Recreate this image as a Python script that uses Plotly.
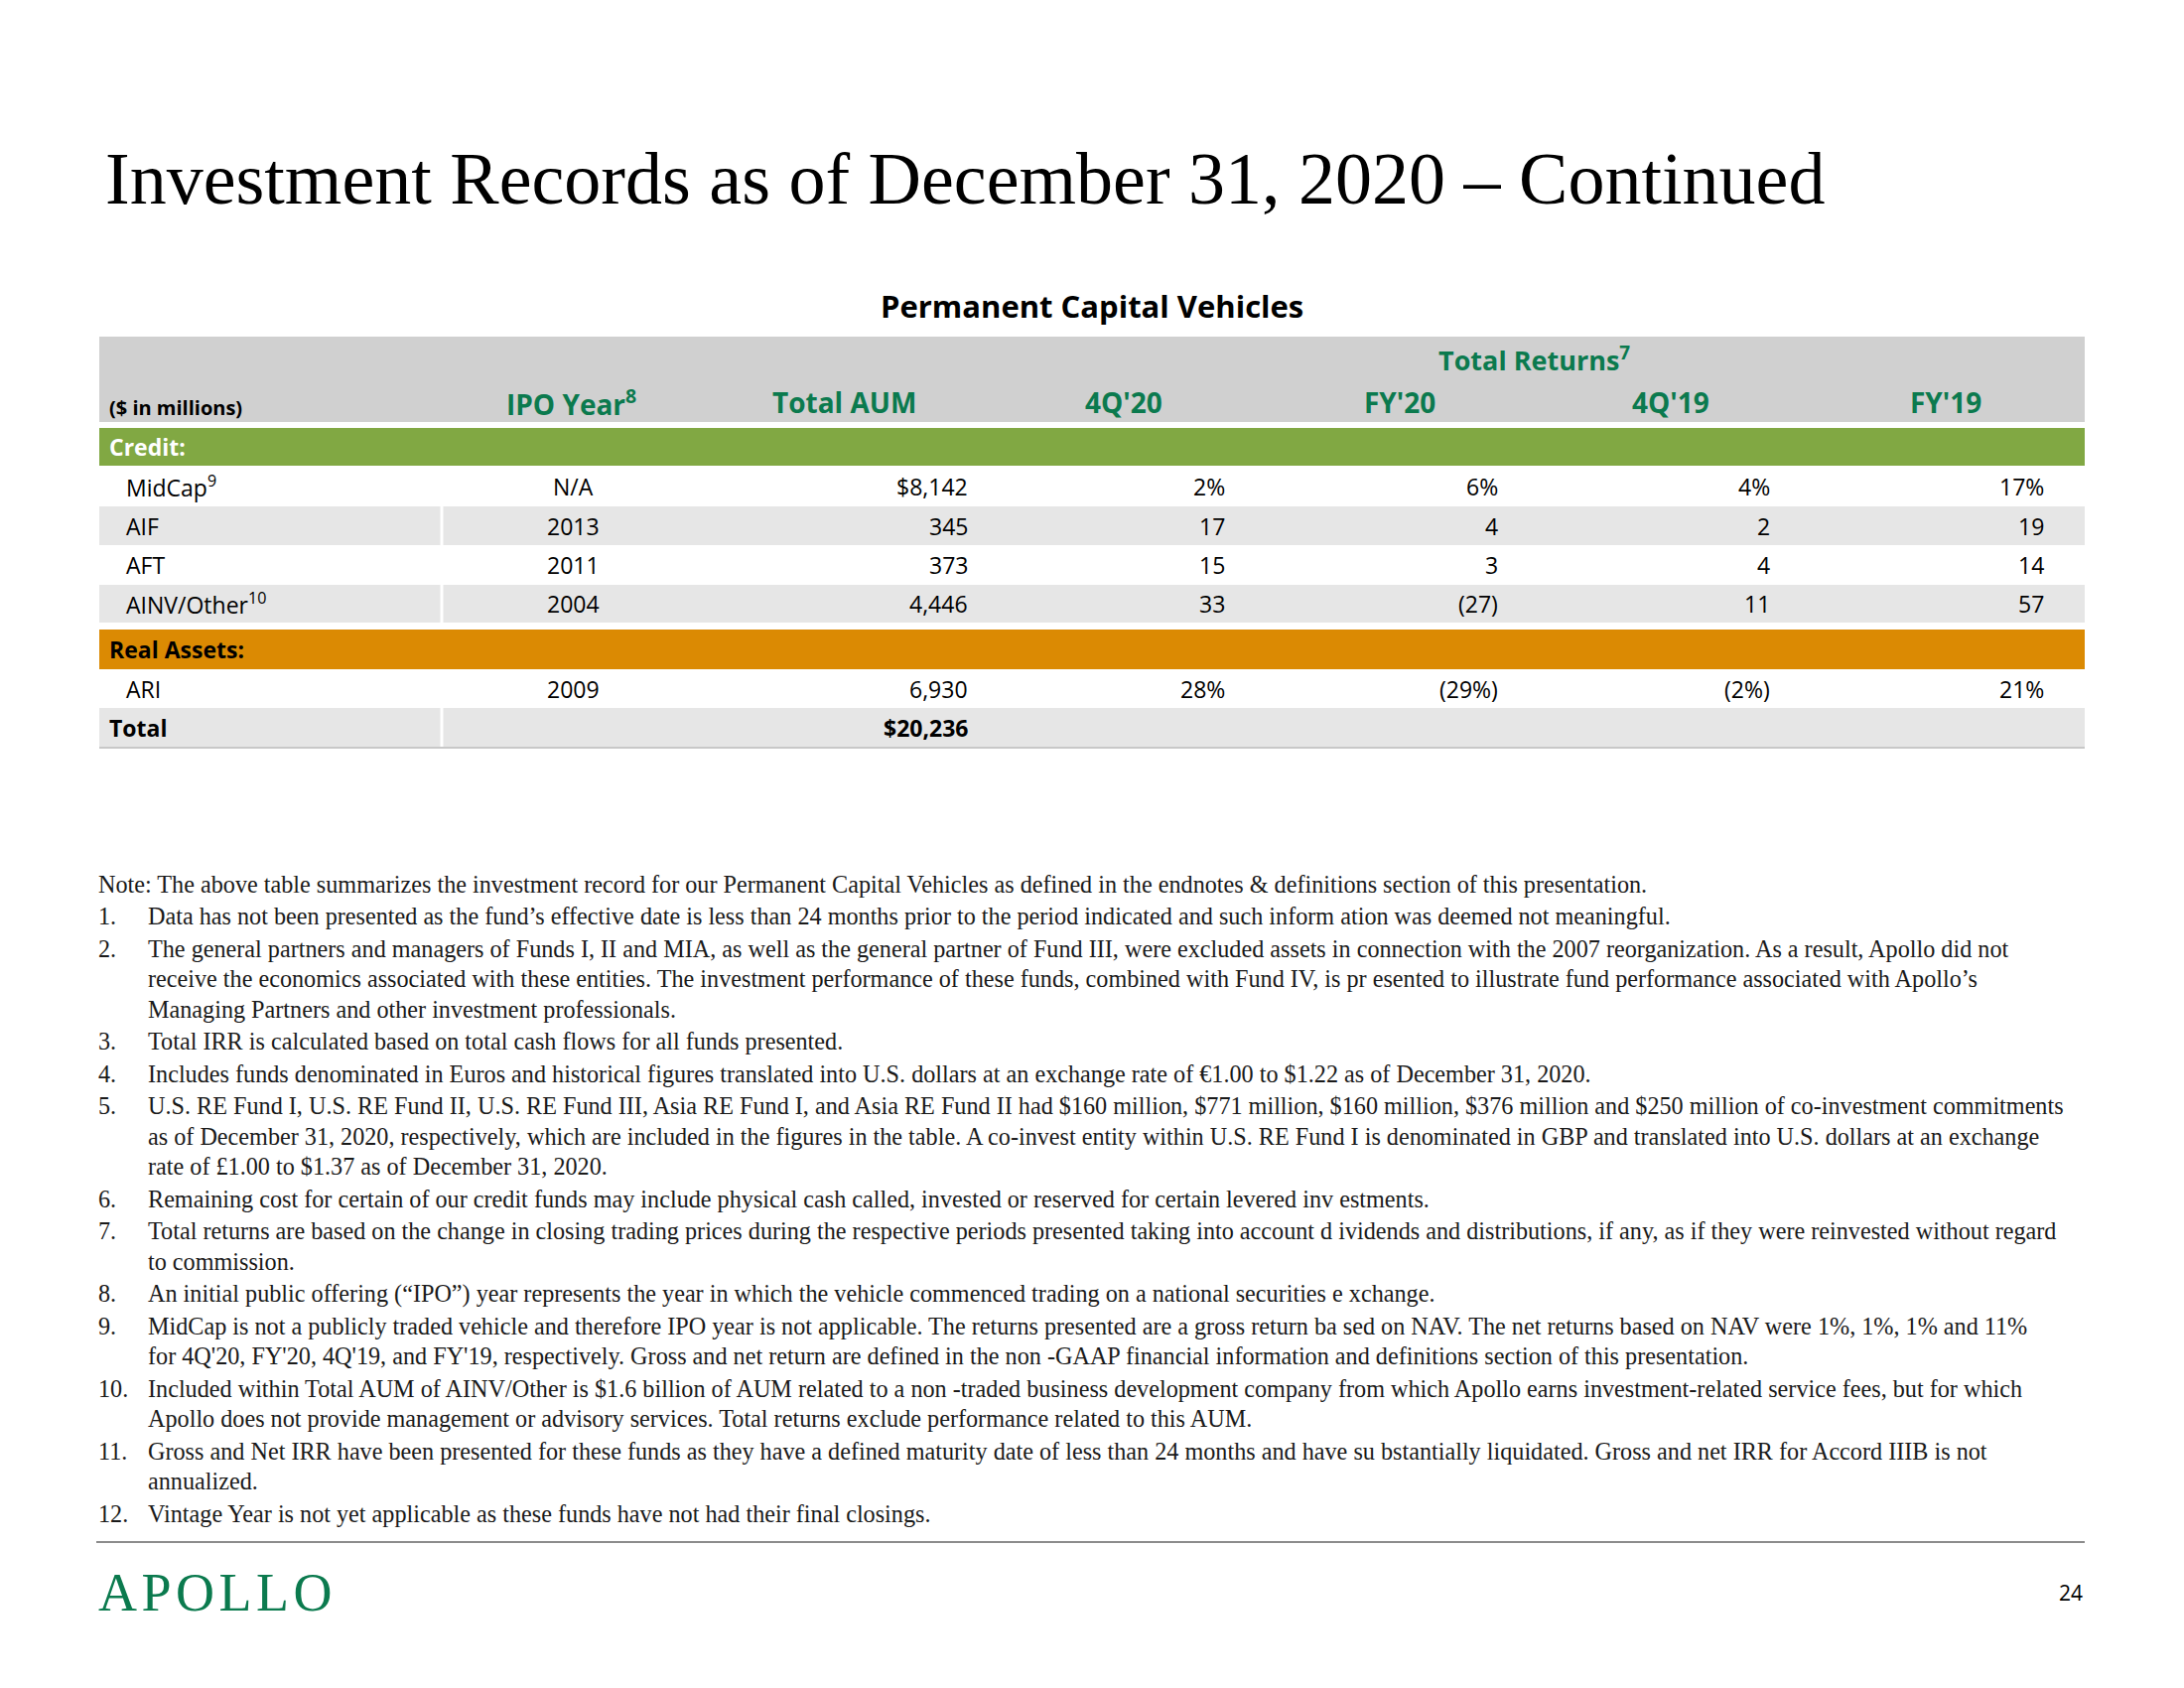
import plotly.graph_objects as go

# ---- data ----
title = "Investment Records as of December 31, 2020 – Continued"
subtitle = "Permanent Capital Vehicles"
columns = ["IPO Year<sup>8</sup>", "Total AUM", "4Q'20", "FY'20", "4Q'19", "FY'19"]
groups = ["Credit:", "Real Assets:"]
funds = ["MidCap<sup>9</sup>", "AIF", "AFT", "AINV/Other<sup>10</sup>", "ARI"]
fund_group = [0, 0, 0, 0, 1]
ipo_year = ["N/A", "2013", "2011", "2004", "2009"]
total_aum = ["$8,142", "345", "373", "4,446", "6,930"]
ret_4q20 = ["2%", "17", "15", "33", "28%"]
ret_fy20 = ["6%", "4", "3", "(27)", "(29%)"]
ret_4q19 = ["4%", "2", "4", "11", "(2%)"]
ret_fy19 = ["17%", "19", "14", "57", "21%"]
total_label = "Total"
total_aum_sum = "$20,236"

notes_intro = ("Note: The above table summarizes the investment record for our Permanent Capital Vehicles "
               "as defined in the endnotes & definitions section of this presentation.")
notes = [
    ["Data has not been presented as the fund’s effective date is less than 24 months prior to the period indicated and such inform ation was deemed not meaningful."],
    ["The general partners and managers of Funds I, II and MIA, as well as the general partner of Fund III, were excluded assets in connection with the 2007 reorganization. As a result, Apollo did not",
     "receive the economics associated with these entities. The investment performance of these funds, combined with Fund IV, is pr esented to illustrate fund performance associated with Apollo’s",
     "Managing Partners and other investment professionals."],
    ["Total IRR is calculated based on total cash flows for all funds presented."],
    ["Includes funds denominated in Euros and historical figures translated into U.S. dollars at an exchange rate of €1.00 to $1.22 as of December 31, 2020."],
    ["U.S. RE Fund I, U.S. RE Fund II, U.S. RE Fund III, Asia RE Fund I, and Asia RE Fund II had $160 million, $771 million, $160 million, $376 million and $250 million of co-investment commitments",
     "as of December 31, 2020, respectively, which are included in the figures in the table. A co-invest entity within U.S. RE Fund I is denominated in GBP and translated into U.S. dollars at an exchange",
     "rate of £1.00 to $1.37 as of December 31, 2020."],
    ["Remaining cost for certain of our credit funds may include physical cash called, invested or reserved for certain levered inv estments."],
    ["Total returns are based on the change in closing trading prices during the respective periods presented taking into account d ividends and distributions, if any, as if they were reinvested without regard",
     "to commission."],
    ["An initial public offering (“IPO”) year represents the year in which the vehicle commenced trading on a national securities e xchange."],
    ["MidCap is not a publicly traded vehicle and therefore IPO year is not applicable. The returns presented are a gross return ba sed on NAV. The net returns based on NAV were 1%, 1%, 1% and 11%",
     "for 4Q'20, FY'20, 4Q'19, and FY'19, respectively. Gross and net return are defined in the non -GAAP financial information and definitions section of this presentation."],
    ["Included within Total AUM of AINV/Other is $1.6 billion of AUM related to a non -traded business development company from which Apollo earns investment-related service fees, but for which",
     "Apollo does not provide management or advisory services. Total returns exclude performance related to this AUM."],
    ["Gross and Net IRR have been presented for these funds as they have a defined maturity date of less than 24 months and have su bstantially liquidated. Gross and net IRR for Accord IIIB is not",
     "annualized."],
    ["Vintage Year is not yet applicable as these funds have not had their final closings."],
]
page_number = "24"
logo = "A\u200aP\u200aO\u200aL\u200aL\u200aO"

# ---- styling ----
GREEN_TXT = "#0B7A4E"
HEADER_BG = "#D0D0D0"
ROW_GRAY = "#E6E6E6"
CREDIT_BG = "#81A843"
REAL_BG = "#DB8A03"
SANS = "Open Sans"
SERIF = "Liberation Serif"

# the page body has an 8px margin, so the axes are offset to keep data units = screen pixels
OFF = 8
W, H = 2200 - 2 * OFF, 1700 - 2 * OFF

X0, X1 = 100, 2100
SEP_X = 445
head_x = [575, 850, 1132, 1410, 1683, 1960]
val_x = [577, 977, 1236, 1511, 1785, 2061]
val_anchor = ["center", "right", "right", "right", "right", "right"]

fig = go.Figure()
fig.add_trace(go.Scatter(x=[OFF, W], y=[OFF, H], mode="markers",
                         marker=dict(opacity=0), hoverinfo="skip"))

shapes = []
ann = []


def rect(x0, y0, x1, y1, color):
    shapes.append(dict(type="rect", xref="x", yref="y", x0=x0, y0=y0, x1=x1, y1=y1,
                       fillcolor=color, line=dict(width=0), layer="below"))


def text(x, y, s, size, color="#000000", family=SANS, anchor="left", bold=False):
    if bold:
        s = "<b>" + s + "</b>"
    ann.append(dict(x=x, y=y, xref="x", yref="y", text=s, showarrow=False,
                    xanchor=anchor, yanchor="middle",
                    font=dict(size=size, color=color, family=family)))


# title
text(104, 180, title, 74, family=SERIF)
text(1100, 308, subtitle, 31, bold=True, anchor="center")

# header band
rect(X0, 339, X1, 425, HEADER_BG)
text(1545, 361, "Total Returns<sup>7</sup>", 27, GREEN_TXT, bold=True, anchor="center")
text(108, 410, "($ in millions)", 20, bold=True)
for cx, c in zip(head_x, columns):
    text(cx, 405, c, 28, GREEN_TXT, bold=True, anchor="center")

# body
group_bands = {0: (431, 469), 1: (634, 674)}
group_colors = [CREDIT_BG, REAL_BG]
group_text = ["#FFFFFF", "#000000"]
row_bounds = [(470, 510), (510, 549), (549, 589), (589, 627), (674, 713)]
total_bounds = (713, 752)

for g, (y0, y1) in group_bands.items():
    rect(X0, y0, X1, y1, group_colors[g])
    text(108, (y0 + y1) / 2, groups[g], 23, group_text[g], bold=True)

cols = [ipo_year, total_aum, ret_4q20, ret_fy20, ret_4q19, ret_fy19]
alt = 0
prev_group = None
for i, name in enumerate(funds):
    if fund_group[i] != prev_group:
        alt = 0
        prev_group = fund_group[i]
    y0, y1 = row_bounds[i]
    if alt % 2 == 1:
        rect(X0, y0, SEP_X - 1.5, y1, ROW_GRAY)
        rect(SEP_X + 1.5, y0, X1, y1, ROW_GRAY)
    alt += 1
    ym = (y0 + y1) / 2
    text(125, ym, name, 23)
    for j, col in enumerate(cols):
        text(val_x[j], ym, col[i], 23, anchor=val_anchor[j])

y0, y1 = total_bounds
rect(X0, y0, SEP_X - 1.5, y1, ROW_GRAY)
rect(SEP_X + 1.5, y0, X1, y1, ROW_GRAY)
shapes.append(dict(type="line", xref="x", yref="y", x0=X0, x1=X1, y0=y1 + 1, y1=y1 + 1,
                   line=dict(color="#C8C8C8", width=2)))
text(108, (y0 + y1) / 2, total_label, 23, bold=True)
text(val_x[1], (y0 + y1) / 2, total_aum_sum, 23, bold=True, anchor="right")

# notes
NOTE_SIZE = 24.2
y = 890
text(97, y, notes_intro, NOTE_SIZE, "#1A1A1A", SERIF)
for k, lines in enumerate(notes):
    y += 32.5
    text(97, y, f"{k + 1}.", NOTE_SIZE, "#1A1A1A", SERIF)
    for li, line in enumerate(lines):
        if li > 0:
            y += 30.5
        text(147, y, line, NOTE_SIZE, "#1A1A1A", SERIF)

# footer
shapes.append(dict(type="line", xref="x", yref="y", x0=97, x1=2100, y0=1553, y1=1553,
                   line=dict(color="#8C8C8C", width=2)))
text(97, 1604, logo, 54, GREEN_TXT, SERIF)
text(2100, 1604, page_number, 21, anchor="right")

fig.update_layout(
    width=W, height=H, margin=dict(l=0, r=0, t=0, b=0),
    paper_bgcolor="white", plot_bgcolor="white", showlegend=False,
    xaxis=dict(range=[OFF, OFF + W], visible=False, fixedrange=True),
    yaxis=dict(range=[OFF + H, OFF], visible=False, fixedrange=True),
    shapes=shapes, annotations=ann,
)

fig.write_html("out.html")
